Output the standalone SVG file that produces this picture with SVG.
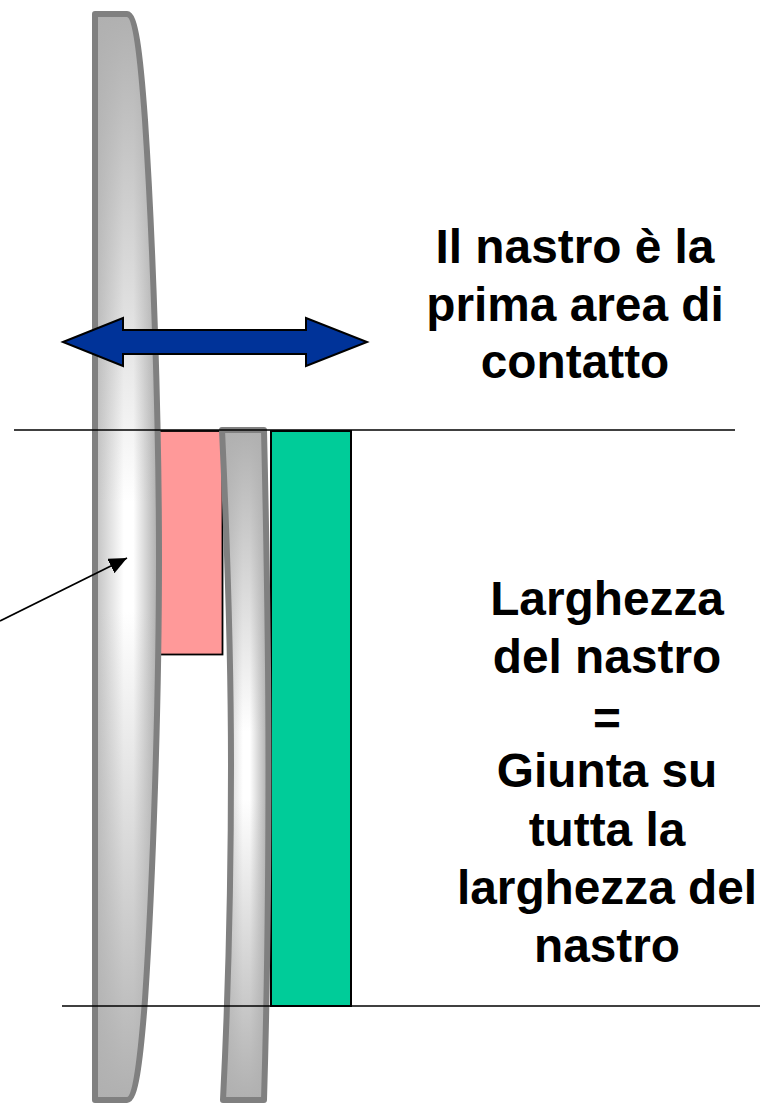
<svg xmlns="http://www.w3.org/2000/svg" width="760" height="1104" viewBox="0 0 760 1104">
<style>
.t{font-family:"Liberation Sans",Arial,sans-serif;font-weight:700;font-size:47.8px;text-anchor:middle;fill:#000}
.l{stroke:#000;stroke-width:1.7;fill:none}
.h{fill:url(#gh);stroke:none}
.v{stroke:#808080;stroke-width:6;stroke-linejoin:round;fill:url(#gv)}
</style>
<defs>
<linearGradient id="gh" x1="0" y1="0" x2="1" y2="0"><stop offset="0" stop-color="#c0c0c0"/><stop offset="0.45" stop-color="#fff"/><stop offset="0.6" stop-color="#fff"/><stop offset="1" stop-color="#a8a8a8"/></linearGradient>
<linearGradient id="gv" x1="0" y1="0" x2="0" y2="1"><stop offset="0" stop-color="#b0b0b0"/><stop offset="0.45" stop-color="#b0b0b0" stop-opacity="0"/><stop offset="0.55" stop-color="#b0b0b0" stop-opacity="0"/><stop offset="1" stop-color="#b0b0b0"/></linearGradient>
<marker id="a" markerUnits="userSpaceOnUse" markerWidth="20" markerHeight="20" refX="18" refY="8" orient="auto"><path d="M0 0L18 8L0 16z" fill="#000"/></marker>
<path id="dl" d="M95 14H127C135 14 140 50 145 120C153 240 159 420 159 557C159 700 153 880 145 1000C140 1065 135 1100 127 1100H95z"/>
<path id="dr" d="M222 430H264C267 560 268.500 680 268.500 765C268.500 880 267 1000 264 1100H223C228 1000 231 880 231 765C231 680 228 560 222 430z"/>
</defs>
<g id="band"><rect x="150" y="431" width="72.500" height="223.500" fill="#ff9999" stroke="#000" stroke-width="1.8"/></g>
<g id="disc-left"><use href="#dl" class="h"/><use href="#dl" class="v"/></g>
<g id="weld"><rect x="271" y="431" width="80" height="575" fill="#00cc99" stroke="#000" stroke-width="2"/></g>
<g id="disc-right"><use href="#dr" class="h"/><use href="#dr" class="v"/></g>
<g id="connectors">
<line class="l" x1="14" y1="430" x2="735" y2="430"/>
<line class="l" x1="62" y1="1006" x2="760" y2="1006"/>
<line class="l" x1="0" y1="621" x2="127" y2="558" marker-end="url(#a)"/>
</g>
<g id="double-arrow"><path d="M63 342L123 318V330H306V318L367 342L306 366V354H123V366z" fill="#003399" stroke="#000" stroke-width="2"/></g>
<g id="label-top"><text class="t" x="575" y="263">Il nastro è la</text><text class="t" x="575" y="321">prima area di</text><text class="t" x="575" y="377.500">contatto</text></g>
<g id="label-bottom"><text class="t" x="607" y="615">Larghezza</text><text class="t" x="607" y="672.500">del nastro</text><text class="t" x="607" y="735">=</text><text class="t" x="607" y="787">Giunta su</text><text class="t" x="607" y="846">tutta la</text><text class="t" x="607" y="903.500">larghezza del</text><text class="t" x="607" y="961.500">nastro</text></g>
</svg>
